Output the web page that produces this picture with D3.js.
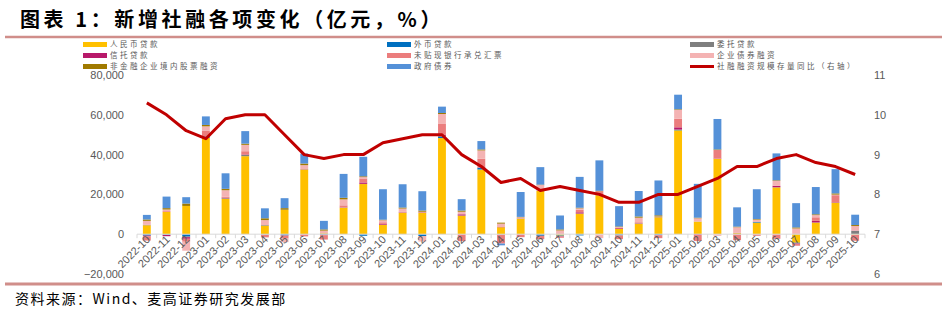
<!DOCTYPE html>
<html>
<head>
<meta charset="utf-8">
<script src="https://cdn.jsdelivr.net/npm/d3@7"></script>
<style>
  body { margin: 0; background: #fff; }
  svg { display: block; }
</style>
</head>
<body>
<div id="chart"></div>
<script>
// months on the x axis
var months = ["2022-10","2022-11","2022-12","2023-01","2023-02","2023-03","2023-04","2023-05","2023-06","2023-07","2023-08","2023-09","2023-10","2023-11","2023-12",
  "2024-01","2024-02","2024-03","2024-04","2024-05","2024-06","2024-07","2024-08","2024-09","2024-10","2024-11","2024-12",
  "2025-01","2025-02","2025-03","2025-04","2025-05","2025-06","2025-07","2025-08","2025-09","2025-10"];

// monthly increments, 亿元
var rmbLoans   = [4500,11200,14200,48500,17800,39200,4300,12200,32500,400,13300,25200,4700,10700,10700,48300,9300,32500,3500,7800,21800,-700,10300,19600,2800,5200,8500,52200,6300,37800,500,5800,23500,-4300,5800,15800,-300];
var fxLoans    = [-700,-300,-1200,500,0,0,-200,-600,0,-300,0,-800,0,0,-900,800,0,800,-100,0,-800,-300,-600,0,-500,0,-500,200,0,0,0,300,0,-300,0,0,0];
var entrusted  = [200,-100,-300,100,300,700,300,100,100,100,100,100,100,100,100,300,100,100,-100,100,100,100,100,100,-200,200,100,200,100,100,100,100,100,100,100,100,1700];
var trustLoans = [-300,-600,-800,200,200,200,0,-100,100,-200,100,700,400,100,100,500,600,200,100,100,100,-200,600,100,400,100,100,1100,-400,100,100,100,700,-200,800,200,100];
var bills      = [-2200,400,-1500,2800,500,1600,-1400,-1500,-1100,-2200,1000,2000,800,500,400,5500,-3500,4300,-4500,-1500,-1700,-600,1300,1800,-1800,500,-1500,4300,-3000,4300,-3000,-800,-2300,-1000,1800,3500,-3000];
var corpBonds  = [2000,800,-4500,2100,3300,3200,2500,-1800,2000,1300,3000,700,1000,1500,-2800,5000,1300,4200,1700,500,2700,1800,700,-2000,400,2300,200,4500,1600,-800,2800,1000,2500,2800,1100,300,2300];
var equity     = [700,700,1200,700,700,600,900,800,800,600,800,400,300,500,600,500,600,500,500,200,200,500,300,200,300,600,600,300,300,300,300,300,300,500,400,600,500];
var govBonds   = [2300,5800,3200,4300,7800,6300,5000,5000,5000,4300,12000,9800,15300,11700,9700,3200,5700,4200,-900,12500,8800,7000,15500,15300,10200,12800,17500,7300,17000,15300,9700,15000,13500,12200,13700,12200,5200];

// 社融存量同比, %
var stockYoY   = [10.3,10.0,9.6,9.4,9.9,10.0,10.0,9.5,9.0,8.9,9.0,9.0,9.3,9.4,9.5,9.5,9.0,8.7,8.3,8.4,8.1,8.2,8.1,8.0,7.8,7.8,8.0,8.0,8.2,8.4,8.7,8.7,8.9,9.0,8.8,8.7,8.5];

var leftTicks  = [-20000, 0, 20000, 40000, 60000, 80000];
var rightTicks = [6, 7, 8, 9, 10, 11];

var series = [
  { key: "rmb",    name: "人民币贷款",             color: "#FFC000", values: rmbLoans },
  { key: "fx",     name: "外币贷款",               color: "#0070C0", values: fxLoans },
  { key: "ent",    name: "委托贷款",               color: "#7F7F7F", values: entrusted },
  { key: "trust",  name: "信托贷款",               color: "#B8196A", values: trustLoans },
  { key: "bill",   name: "未贴现银行承兑汇票",     color: "#EB7D7D", values: bills },
  { key: "bond",   name: "企业债券融资",           color: "#F4B3B3", values: corpBonds },
  { key: "equity", name: "非金融企业境内股票融资", color: "#A07A00", values: equity },
  { key: "gov",    name: "政府债券",               color: "#5591D8", values: govBonds }
];
var lineName = "社融融资规模存量同比（右轴）";
var lineColor = "#C00000";

var width = 947, height = 311;
var plotLeft = 137, plotRight = 865, plotTop = 75, plotBottom = 274;

var svg = d3.select("#chart").append("svg")
  .attr("width", width).attr("height", height);

// title + rules
svg.append("text")
  .attr("x", 20).attr("y", 27)
  .style("font-family", "'Noto Sans CJK SC', sans-serif")
  .style("font-size", "20px").style("font-weight", "bold")
  .style("letter-spacing", "3.6px")
  .attr("fill", "#000")
  .text("图表 1：新增社融各项变化（亿元，%）");

svg.append("line").attr("x1", 5).attr("x2", 942).attr("y1", 37).attr("y2", 37)
  .attr("stroke", "#D08E8A").attr("stroke-width", 2.5);
svg.append("line").attr("x1", 5).attr("x2", 942).attr("y1", 284).attr("y2", 284)
  .attr("stroke", "#D08E8A").attr("stroke-width", 3);

svg.append("text")
  .attr("x", 15).attr("y", 304)
  .style("font-family", "'Noto Sans CJK SC', sans-serif")
  .style("font-size", "14px").style("letter-spacing", "1.5px")
  .attr("fill", "#000")
  .text("资料来源：Wind、麦高证券研究发展部");

// scales
var x = d3.scaleBand().domain(months).range([plotLeft, plotRight])
  .paddingInner(0.6).paddingOuter(0.3);
var y = d3.scaleLinear().domain([-20000, 80000]).range([plotBottom, plotTop]);
var yR = d3.scaleLinear().domain([6, 11]).range([plotBottom, plotTop]);

// stacked data
var table = months.map(function (m, i) {
  var row = { month: m };
  series.forEach(function (s) { row[s.key] = s.values[i]; });
  return row;
});
var stacked = d3.stack().keys(series.map(function (s) { return s.key; }))
  .offset(d3.stackOffsetDiverging)(table);

// axes
var axisFont = "'Liberation Sans', Arial, sans-serif";
var gl = svg.append("g").attr("transform", "translate(" + (plotLeft - 13) + ",0)")
  .call(d3.axisLeft(y).tickValues(leftTicks).tickSize(0).tickFormat(d3.format(",")));
var gr = svg.append("g").attr("transform", "translate(" + (plotRight + 9) + ",0)")
  .call(d3.axisRight(yR).tickValues(rightTicks).tickSize(0).tickFormat(d3.format("d")));
[gl, gr].forEach(function (g) {
  g.select(".domain").remove();
  g.selectAll("text").attr("fill", "#595959")
    .style("font-family", axisFont).style("font-size", "11px");
});
gl.selectAll("text").attr("x", 0);
gr.selectAll("text").attr("x", 0);

// bars
svg.append("g").selectAll("g").data(stacked).enter().append("g")
  .attr("fill", function (d, i) { return series[i].color; })
  .selectAll("rect").data(function (d) { return d; }).enter().append("rect")
  .attr("x", function (d) { return x(d.data.month); })
  .attr("width", x.bandwidth())
  .attr("y", function (d) { return y(Math.max(d[0], d[1])); })
  .attr("height", function (d) { return Math.abs(y(d[0]) - y(d[1])); });

// zero axis with ticks between categories
var gx = svg.append("g").attr("transform", "translate(0," + y(0) + ")");
gx.append("line").attr("x1", plotLeft).attr("x2", plotRight)
  .attr("stroke", "#D9D9D9").attr("stroke-width", 1);
var step = x.step();
gx.selectAll("line.tk").data(d3.range(months.length + 1)).enter().append("line")
  .attr("class", "tk")
  .attr("x1", function (i) { return plotLeft + i * step; })
  .attr("x2", function (i) { return plotLeft + i * step; })
  .attr("y1", 0).attr("y2", 4)
  .attr("stroke", "#D9D9D9");
gx.selectAll("text").data(months).enter().append("text")
  .attr("transform", function (m) {
    return "translate(" + (x(m) + x.bandwidth() / 2 + 4) + ",6) rotate(-45)";
  })
  .attr("text-anchor", "end")
  .attr("fill", "#595959")
  .style("font-family", axisFont).style("font-size", "11px")
  .text(function (m) { return m; });

// line on right axis
var line = d3.line()
  .x(function (d, i) { return x(months[i]) + x.bandwidth() / 2; })
  .y(function (d) { return yR(d); });
svg.append("path").datum(stockYoY)
  .attr("d", line)
  .attr("fill", "none")
  .attr("stroke", lineColor).attr("stroke-width", 3)
  .attr("stroke-linejoin", "round");

// legend, 3 columns
var legendItems = [
  { s: series[0], col: 0, row: 0 }, { s: series[1], col: 1, row: 0 }, { s: series[2], col: 2, row: 0 },
  { s: series[3], col: 0, row: 1 }, { s: series[4], col: 1, row: 1 }, { s: series[5], col: 2, row: 1 },
  { s: series[6], col: 0, row: 2 }, { s: series[7], col: 1, row: 2 },
  { s: { name: lineName, color: lineColor, isLine: true }, col: 2, row: 2 }
];
var colX = [83, 387, 690];
var rowY = [44.5, 55.5, 66.5];
var lg = svg.append("g").selectAll("g").data(legendItems).enter().append("g")
  .attr("transform", function (d) { return "translate(" + colX[d.col] + "," + rowY[d.row] + ")"; });
lg.each(function (d) {
  var g = d3.select(this);
  if (d.s.isLine) {
    g.append("line").attr("x1", 0).attr("x2", 24).attr("y1", 0).attr("y2", 0)
      .attr("stroke", d.s.color).attr("stroke-width", 3);
  } else {
    g.append("rect").attr("x", 0).attr("y", -2.5).attr("width", 24).attr("height", 5)
      .attr("fill", d.s.color);
  }
  g.append("text").attr("x", 27).attr("y", 2.8)
    .attr("fill", "#595959")
    .style("font-family", "'Noto Sans CJK SC', sans-serif")
    .style("font-size", "7.5px").style("letter-spacing", "2.5px")
    .text(d.s.name);
});
</script>
</body>
</html>
